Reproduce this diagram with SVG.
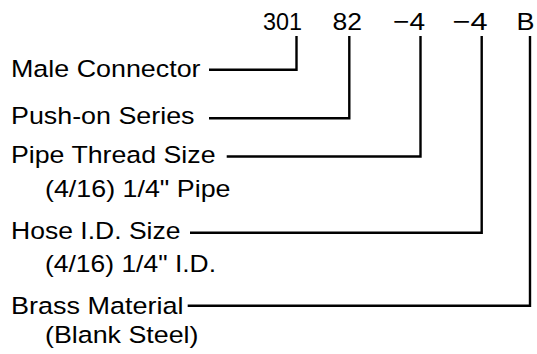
<svg xmlns="http://www.w3.org/2000/svg" width="537" height="354" viewBox="0 0 537 354">
<style>
text{font-family:"Liberation Sans",Arial,Helvetica,sans-serif;font-size:24.5px;fill:#000}
.c{fill:none;stroke:#000;stroke-width:2.4;stroke-linejoin:miter}
</style>
<rect width="537" height="354" fill="#fff"/>
<g id="code">
<text x="263" y="29.8" textLength="39" lengthAdjust="spacingAndGlyphs">301</text>
<text x="332.5" y="29.8" textLength="29.5" lengthAdjust="spacingAndGlyphs">82</text>
<text x="393" y="29.8" textLength="32" lengthAdjust="spacingAndGlyphs">−4</text>
<text x="452.5" y="29.8" textLength="35" lengthAdjust="spacingAndGlyphs">−4</text>
<text x="516.5" y="29.8" textLength="18" lengthAdjust="spacingAndGlyphs">B</text>
</g>
<g id="male-connector">
<text x="11" y="77.3" textLength="189.5" lengthAdjust="spacingAndGlyphs">Male Connector</text>
</g>
<g id="push-on-series">
<text x="11" y="124" textLength="183.5" lengthAdjust="spacingAndGlyphs">Push-on Series</text>
</g>
<g id="pipe-thread-size">
<text x="11" y="163.3" textLength="204.5" lengthAdjust="spacingAndGlyphs">Pipe Thread Size</text>
<text x="45" y="196.7" textLength="185.5" lengthAdjust="spacingAndGlyphs">(4/16) 1/4" Pipe</text>
</g>
<g id="hose-id-size">
<text x="11" y="239.3" textLength="169.5" lengthAdjust="spacingAndGlyphs">Hose I.D. Size</text>
<text x="45" y="271.7" textLength="171" lengthAdjust="spacingAndGlyphs">(4/16) 1/4" I.D.</text>
</g>
<g id="brass-material">
<text x="11" y="314" textLength="172.5" lengthAdjust="spacingAndGlyphs">Brass Material</text>
<text x="45" y="343" textLength="153.5" lengthAdjust="spacingAndGlyphs">(Blank Steel)</text>
</g>
<g id="connectors">
<polyline class="c" points="209,69.8 296.5,69.8 296.5,36"/>
<polyline class="c" points="209,118.3 349.3,118.3 349.3,36"/>
<polyline class="c" points="226.7,156.5 420.5,156.5 420.5,36"/>
<polyline class="c" points="190,232.8 481.7,232.8 481.7,36"/>
<polyline class="c" points="187.7,305.8 530,305.8 530,36"/>
</g>
</svg>
